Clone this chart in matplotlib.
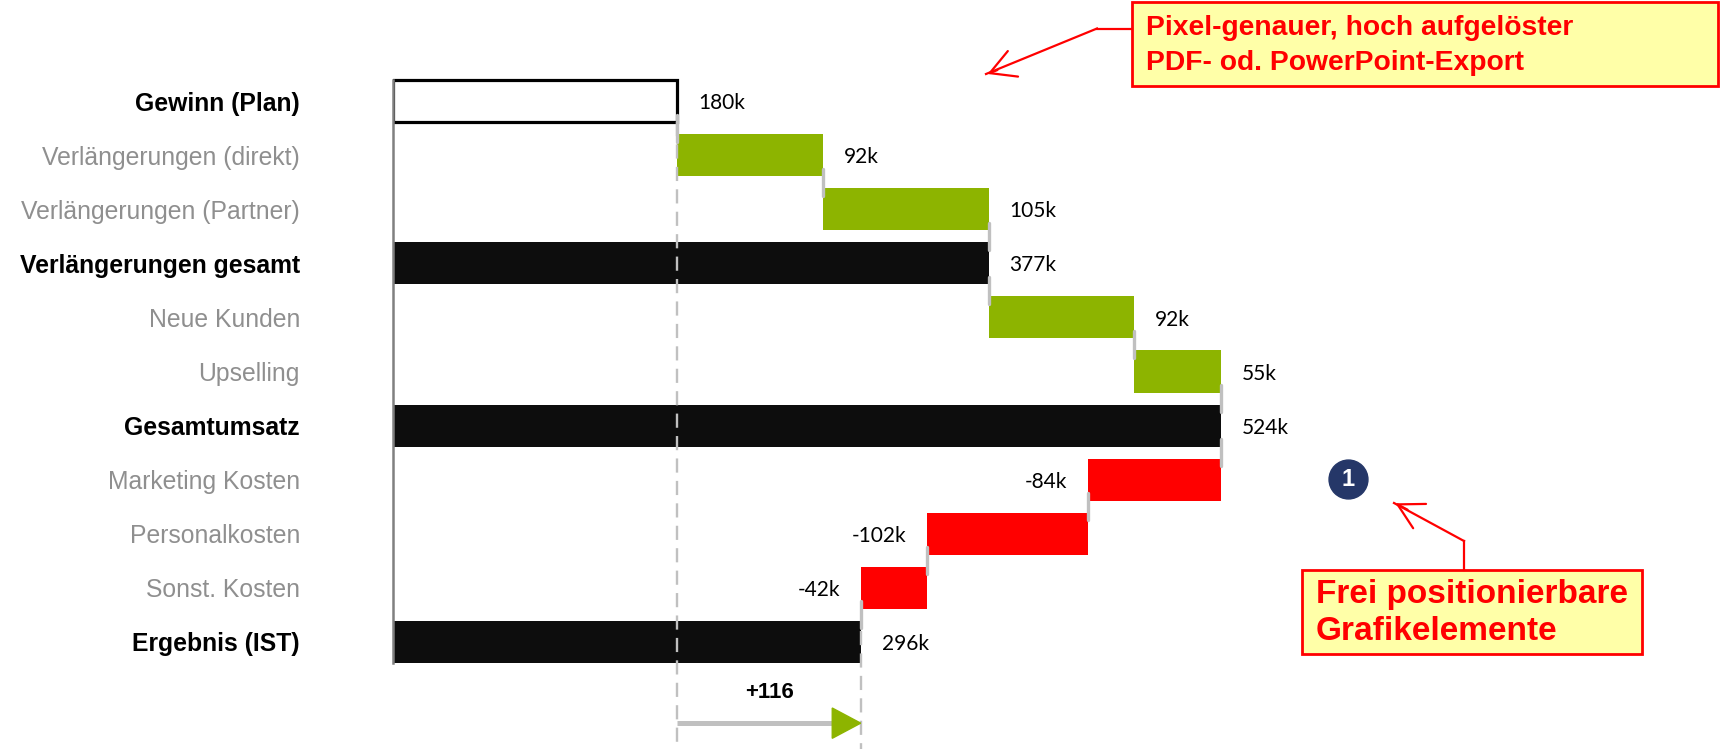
import matplotlib
matplotlib.use("Agg")
import matplotlib.pyplot as plt
from matplotlib.patches import Rectangle, Polygon

# data
categories = ["Gewinn (Plan)", "Verlängerungen (direkt)", "Verlängerungen (Partner)",
              "Verlängerungen gesamt", "Neue Kunden", "Upselling", "Gesamtumsatz",
              "Marketing Kosten", "Personalkosten", "Sonst. Kosten", "Ergebnis (IST)"]
values = [180, 92, 105, 377, 92, 55, 524, -84, -102, -42, 296]
kinds = ["plan", "delta", "delta", "total", "delta", "delta", "total",
         "delta", "delta", "delta", "total"]
labels = ["180k", "92k", "105k", "377k", "92k", "55k", "524k",
          "-84k", "-102k", "-42k", "296k"]
diff_label = "+116"

GREEN = "#8db400"
RED = "#ff0000"
BLACK = "#0d0d0d"
GREY_TXT = "#8f8f8f"
CONN = "#c0c0c0"

W, H = 1720, 749
fig = plt.figure(figsize=(W / 100, H / 100), dpi=100)

# axes: x=0 sits at pixel 393, 1.58 px per k, rows 54.1 px apart
x0_px, px_per_k = 393, 1.58
row0_px, row_px = 101, 54.1
ax = fig.add_axes([x0_px / W, 0, 1 - x0_px / W, 1])
ax.set_xlim(0, (W - x0_px) / px_per_k)
ax.set_ylim((H - row0_px) / row_px, -row0_px / row_px)

def fp(x, y):
    # pixel position -> figure fraction (used for the free annotations)
    return (x / W, 1 - y / H)

bh = 0.78
level = 0
ends = []
for i, (v, k) in enumerate(zip(values, kinds)):
    if k == "plan":
        ax.barh(i, v, height=bh, left=0, color="white", edgecolor="black",
                linewidth=2.3, zorder=2)
        level = v
        start, end = 0, v
    elif k == "total":
        ax.barh(i, v, height=bh, left=0, color=BLACK, zorder=2)
        level = v
        start, end = 0, v
    else:
        ax.barh(i, v, height=bh, left=level, color=GREEN if v > 0 else RED, zorder=2)
        start, end = level, level + v
        level = end
    ends.append(level)
    if v >= 0:
        ax.annotate(labels[i], (max(start, end), i + 0.04), xytext=(15, 0),
                    textcoords="offset points", ha="left", va="center",
                    fontsize=15, family="Lato", color="black")
    else:
        ax.annotate(labels[i], (min(start, end), i + 0.04), xytext=(-15, 0),
                    textcoords="offset points", ha="right", va="center",
                    fontsize=15, family="Lato", color="black")

# connectors between bars
for i in range(len(values) - 1):
    ax.plot([ends[i], ends[i]], [i + 0.25, i + 0.75], color=CONN, lw=2.4,
            solid_capstyle="round", zorder=3)

# dashed reference lines at plan and result
ybot = (H - row0_px) / row_px
ax.plot([values[0], values[0]], [bh / 2, ybot], color=CONN, lw=1.7,
        ls=(0, (6, 3.5)), zorder=4)
ax.plot([values[-1], values[-1]], [len(values) - 1.2, ybot], color=CONN, lw=1.7,
        ls=(0, (6, 3.5)), zorder=4)

# difference arrow
ax.text((values[0] + values[-1]) / 2, 10.94, diff_label, ha="center", va="center",
        fontsize=16, fontweight="bold", family="Liberation Sans")
tri_len = 18
ax.plot([values[0], values[-1] - tri_len], [11.5, 11.5], color=CONN, lw=3.6,
        solid_capstyle="butt", zorder=3)
ax.add_patch(Polygon([[values[-1] - tri_len, 11.22], [values[-1] - tri_len, 11.78],
                      [values[-1], 11.5]], closed=True, color=GREEN, zorder=4))

# axis styling
for s in ["top", "right", "bottom"]:
    ax.spines[s].set_visible(False)
ax.spines["left"].set_color("#808080")
ax.spines["left"].set_linewidth(1.8)
ax.spines["left"].set_bounds(len(values) - 1 + bh / 2, -bh / 2)
ax.spines["left"].set_zorder(5)
ax.set_xticks([])
ax.set_yticks(range(len(categories)))
ax.set_yticklabels(categories)
ax.tick_params(axis="y", length=0, pad=67)
for lab, k in zip(ax.get_yticklabels(), kinds):
    lab.set_family("Liberation Sans")
    lab.set_fontsize(17.8)
    if k in ("plan", "total"):
        lab.set_fontweight("bold")
        lab.set_color("black")
    else:
        lab.set_color(GREY_TXT)

# callouts
x1, y1 = fp(1132, 86)
x2, y2 = fp(1718, 2)
fig.add_artist(Rectangle((x1, y1), x2 - x1, y2 - y1, transform=fig.transFigure,
                         facecolor="#ffffa8", edgecolor=RED, lw=2))
fig.text(*fp(1146, 28), "Pixel-genauer, hoch aufgelöster", family="Liberation Sans",
         fontweight="bold", fontsize=20.3, color=RED, va="center", ha="left")
fig.text(*fp(1146, 63), "PDF- od. PowerPoint-Export", family="Liberation Sans",
         fontweight="bold", fontsize=20.3, color=RED, va="center", ha="left")
fig.add_artist(plt.Line2D(*zip(fp(1132, 28.5), fp(1097, 28.5)),
                          transform=fig.transFigure, color=RED, lw=1.6))
fig.add_artist(plt.Line2D(*zip(fp(1097, 28.5), fp(986, 74)),
                          transform=fig.transFigure, color=RED, lw=1.6))
ax.annotate("", xy=fp(985, 75), xytext=fp(1000, 69), xycoords="figure fraction",
            textcoords="figure fraction",
            arrowprops=dict(arrowstyle="->,head_length=1.0,head_width=0.55",
                            color=RED, lw=1.6, mutation_scale=18))

x1, y1 = fp(1302, 654)
x2, y2 = fp(1642, 570)
fig.add_artist(Rectangle((x1, y1), x2 - x1, y2 - y1, transform=fig.transFigure,
                         facecolor="#ffffa8", edgecolor=RED, lw=2))
fig.text(*fp(1316, 594), "Frei positionierbare", family="Liberation Sans",
         fontweight="bold", fontsize=24, color=RED, va="center", ha="left")
fig.text(*fp(1316, 631), "Grafikelemente", family="Liberation Sans",
         fontweight="bold", fontsize=24, color=RED, va="center", ha="left")
fig.add_artist(plt.Line2D(*zip(fp(1464, 570), fp(1464, 541)),
                          transform=fig.transFigure, color=RED, lw=1.6))
fig.add_artist(plt.Line2D(*zip(fp(1464, 541), fp(1394, 503)),
                          transform=fig.transFigure, color=RED, lw=1.6))
ax.annotate("", xy=fp(1393, 502), xytext=fp(1410, 511), xycoords="figure fraction",
            textcoords="figure fraction",
            arrowprops=dict(arrowstyle="->,head_length=1.0,head_width=0.55",
                            color=RED, lw=1.6, mutation_scale=18))

# numbered marker
fig.add_artist(plt.Line2D([fp(1348, 479)[0]], [fp(1348, 479)[1]], marker="o",
                          markersize=28, color="#253768", transform=fig.transFigure))
fig.text(*fp(1348, 480), "1", family="Liberation Sans", fontweight="bold",
         fontsize=17, color="white", ha="center", va="center")

fig.savefig("out.png", dpi=100)
